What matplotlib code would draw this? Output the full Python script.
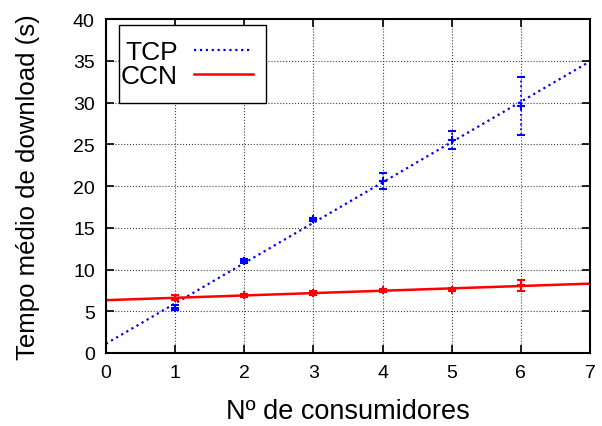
import matplotlib.pyplot as plt
from matplotlib.patches import Rectangle
import numpy as np

plt.rcParams['font.family'] = ['Liberation Sans', 'DejaVu Sans']

# Data
consumers = [1, 2, 3, 4, 5, 6]
tcp_mean = [5.4, 11.0, 16.0, 20.6, 25.5, 29.6]
tcp_err_low = [0.3, 0.2, 0.2, 0.9, 1.1, 3.5]
tcp_err_high = [0.3, 0.2, 0.2, 1.0, 1.1, 3.5]
ccn_mean = [6.6, 6.9, 7.2, 7.5, 7.6, 8.1]
ccn_err_low = [0.3, 0.2, 0.2, 0.2, 0.2, 0.7]
ccn_err_high = [0.3, 0.2, 0.2, 0.2, 0.2, 0.7]

fig = plt.figure(figsize=(6.02, 4.27), dpi=100)
ax = fig.add_axes([0.176, 0.171, 0.804, 0.782])

# Linear fits (as in the original gnuplot fit)
xs = np.array([0, 7])
tcp_fit = np.poly1d(np.polyfit(consumers, tcp_mean, 1))
ccn_fit = np.poly1d(np.polyfit(consumers, ccn_mean, 1))

ax.plot(xs, tcp_fit(xs), ':', color='blue', lw=1.6, label='TCP')
ax.plot(xs, ccn_fit(xs), '-', color='red', lw=1.8, label='CCN')

eb = ax.errorbar(consumers, tcp_mean, yerr=[tcp_err_low, tcp_err_high],
                 fmt='+', color='blue', ms=6, mew=1.5, capsize=3,
                 elinewidth=1.3, capthick=1.3)
eb[2][0].set_linestyle(':')
ax.errorbar(consumers, ccn_mean, yerr=[ccn_err_low, ccn_err_high],
            fmt='+', color='red', ms=6, mew=1.5, capsize=3,
            elinewidth=1.5, capthick=1.5)

ax.set_xlim(0, 7)
ax.set_ylim(0, 40)
ax.set_xticks(range(0, 8))
ax.set_yticks(range(0, 41, 5))
ax.grid(True, linestyle=':', color='0.25', lw=0.8)
ax.tick_params(direction='in', top=True, right=True, length=6, width=1.2,
               labelsize=14, pad=8)
for s in ax.spines.values():
    s.set_linewidth(1.5)

ax.set_xlabel('Nº de consumidores', fontsize=19.5, labelpad=12)
ax.set_ylabel('Tempo médio de download (s)', fontsize=18.5, labelpad=24)

# key box, gnuplot style
box = Rectangle((0.027, 0.7485), 0.3036, 0.2335, transform=ax.transAxes,
                facecolor='white', edgecolor='black', lw=1.0, zorder=5)
ax.add_patch(box)
leg = ax.legend(loc='center left', bbox_to_anchor=(0.031, 0.865),
                fontsize=19, markerfirst=False, frameon=False,
                borderaxespad=0, borderpad=0, handlelength=2.25,
                labelspacing=0.0, handletextpad=0.6)
leg.set_zorder(6)

fig.savefig('out.png', dpi=100)
